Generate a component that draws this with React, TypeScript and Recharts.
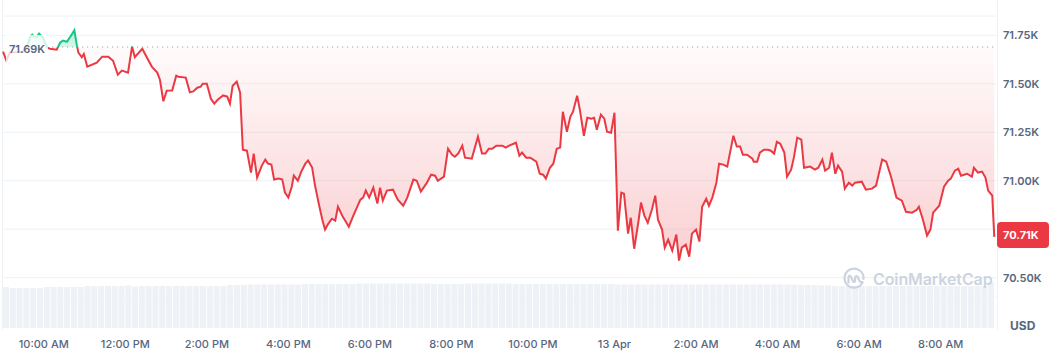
import { ComposedChart, Area, XAxis, YAxis, CartesianGrid, ReferenceLine, BarChart, Bar } from 'recharts';

// minutes since 9:00 AM (12 Apr)
const times = [
  0, 5, 10, 29, 35, 40, 43, 46, 50, 53, 56, 59, 65, 69, 79, 84, 88, 94, 99, 105,
  109, 111, 116, 119, 124, 138, 146, 155, 162, 169, 175, 184, 190, 194, 205, 212, 219, 227, 231, 236,
  241, 249, 255, 258, 269, 275, 280, 286, 291, 294, 300, 306, 311, 316, 324, 330, 334, 338, 344, 349,
  353, 359, 365, 369, 374, 381, 386, 390, 395, 399, 406, 411, 415, 420, 425, 428, 434, 439, 445, 449,
  455, 459, 465, 470, 474, 478, 484, 489, 493, 500, 509, 515, 526, 530, 534, 539, 545, 551, 555, 559,
  565, 574, 581, 589, 595, 604, 609, 615, 624, 630, 636, 640, 649, 655, 661, 665, 670, 676, 680, 690,
  699, 705, 710, 715, 720, 726, 735, 740, 745, 755, 760, 764, 770, 776, 785, 790, 795, 799, 805, 810,
  815, 820, 824, 830, 835, 839, 845, 849, 855, 860, 866, 870, 874, 880, 885, 889, 895, 900, 905, 910,
  914, 920, 924, 929, 935, 939, 944, 949, 955, 960, 964, 970, 974, 979, 985, 991, 995, 999, 1005, 1010,
  1014, 1020, 1025, 1029, 1035, 1039, 1044, 1050, 1054, 1060, 1066, 1075, 1080, 1085, 1089, 1095, 1103, 1105, 1110, 1114,
  1120, 1126, 1130, 1135, 1139, 1144, 1150, 1154, 1160, 1164, 1169, 1175, 1179, 1188, 1195, 1200, 1206, 1210, 1216, 1220,
  1225, 1229, 1235, 1239, 1245, 1250, 1254, 1264, 1270, 1279, 1285, 1294, 1300, 1307, 1315, 1323, 1329, 1338, 1345, 1348,
  1354, 1360, 1365, 1369, 1378, 1385, 1391, 1395, 1401, 1406, 1410, 1419, 1426, 1429, 1435, 1441, 1446, 1450, 1456, 1459,
];

const prices = [
  71666, 71620, 71661, 71666, 71687, 71743, 71754, 71743, 71743, 71759, 71748, 71738, 71687, 71681, 71676, 71712, 71723, 71717, 71743, 71776,
  71693, 71661, 71637, 71654, 71589, 71609, 71640, 71640, 71619, 71547, 71568, 71558, 71693, 71637, 71681, 71635, 71589, 71558, 71521, 71410,
  71465, 71466, 71542, 71537, 71532, 71456, 71461, 71480, 71485, 71501, 71501, 71423, 71398, 71418, 71440, 71434, 71398, 71490, 71511, 71454,
  71160, 71155, 71042, 71140, 71016, 71078, 71109, 71088, 71083, 71006, 71011, 71006, 70939, 70913, 70969, 71026, 71000, 71047, 71088, 71104,
  71068, 70980, 70877, 70799, 70748, 70774, 70804, 70794, 70866, 70815, 70763, 70815, 70902, 70913, 70949, 70913, 70964, 70882, 70964, 70897,
  70949, 70954, 70902, 70871, 70913, 71006, 71000, 70944, 70990, 71031, 71026, 71000, 71021, 71165, 71134, 71124, 71140, 71181, 71119, 71114,
  71227, 71140, 71140, 71165, 71165, 71181, 71181, 71171, 71181, 71196, 71129, 71145, 71119, 71119, 71098, 71036, 71031, 71011, 71067, 71088,
  71165, 71171, 71356, 71253, 71330, 71356, 71439, 71367, 71232, 71325, 71320, 71325, 71263, 71341, 71320, 71253, 71248, 71351, 70742, 70938,
  70933, 70727, 70809, 70649, 70783, 70887, 70820, 70783, 70850, 70923, 70799, 70748, 70655, 70696, 70639, 70722, 70588, 70655, 70670, 70608,
  70727, 70748, 70686, 70866, 70907, 70871, 70913, 70990, 71088, 71083, 71073, 71232, 71176, 71176, 71134, 71134, 71114, 71098, 71098, 71145,
  71160, 71160, 71155, 71140, 71201, 71191, 71145, 71021, 71057, 71119, 71222, 71212, 71067, 71073, 71057, 71067, 71109, 71052, 71067, 71145,
  71036, 71078, 71047, 70959, 70990, 70975, 70990, 70995, 70954, 70959, 70975, 71109, 71098, 71021, 70913, 70897, 70840, 70835, 70850, 70866,
  70799, 70717, 70748, 70835, 70871, 70969, 71000, 71011, 71052, 71062, 71026, 71036, 71021, 71067, 71042, 71047, 71016, 70949, 70923, 70710,
];

// 24h volume, one bar per 10 minutes (relative units)
const volumes = [
  41, 40, 40, 40, 40, 40,
  41, 41, 41, 41, 41, 41,
  42, 42, 42, 42, 42, 42,
  42.5, 41.5, 42, 42, 42, 42,
  42, 42, 42, 42, 42, 42,
  42, 42, 42, 43, 43, 43,
  43.5, 43.5, 43.5, 43.5, 43.5, 43.5,
  43.5, 43.5, 44, 44, 44, 44,
  44, 44, 44, 44, 44.5, 44.5,
  44.5, 44.5, 44.5, 44.5, 44.5, 44.5,
  44.5, 44.5, 44.5, 44, 44, 44,
  44, 44, 44.5, 44.5, 44.5, 44.5,
  44.5, 44.5, 44.5, 44, 44, 44,
  44, 44, 44, 44, 44, 44,
  44, 44, 44, 44, 44, 44,
  43.5, 43.5, 43.5, 43.5, 43.5, 43.5,
  43.5, 43.5, 43.5, 43.5, 43.5, 43.5,
  43.5, 43.5, 43.5, 43.5, 43.5, 43.5,
  43.5, 43.5, 43.5, 43.5, 43.5, 43.5,
  43.5, 43.5, 43.5, 43, 43, 43,
  42.5, 42.5, 42, 42, 42, 42,
  42, 42, 42, 42, 42, 42,
  42, 42, 42, 42, 42, 42,
  42, 42, 42, 42, 42, 42,
  42, 46,
];

const openPrice = 71690;
const lastPrice = 70710;
const yTicks = [70500, 70750, 71000, 71250, 71500, 71750];
// this tick sits under the last-price badge: grid line only, no label
const hiddenTick = 70750;
const xTicks = [60, 180, 300, 420, 540, 660, 780, 900, 1020, 1140, 1260, 1380];
const xLabels = ['10:00 AM', '12:00 PM', '2:00 PM', '4:00 PM', '6:00 PM', '8:00 PM', '10:00 PM', '13 Apr', '2:00 AM', '4:00 AM', '6:00 AM', '8:00 AM'];

const RED = '#ea3943';
const GREEN = '#16c784';
const GRAY = '#58667e';
const GRID = '#eff2f5';
const FONT = 'Inter, "Noto Sans", sans-serif';

const priceData = times.map((t, i) => ({ t, price: prices[i] }));
const volumeData = volumes.map((v, i) => ({ t: i * 10 + 5, vol: v }));

const pMax = Math.max(...prices);
const pMin = Math.min(...prices);
const split = (pMax - openPrice) / (pMax - pMin);

const fmtK = (v: number) => `${(v / 1000).toFixed(2)}K`;

function PriceTick(props: any) {
  const { x, y, payload } = props;
  if (payload.value === hiddenTick) return <g />;
  return (
    <text x={x} y={y} dy="0.355em" textAnchor="start" fill={GRAY} fontSize={11} fontWeight={600} fontFamily={FONT}>
      {fmtK(payload.value)}
    </text>
  );
}

function Logo() {
  return (
    <svg width={24} height={24} viewBox="0 0 24 24" fill="none" stroke="#cdd4df" strokeWidth={2.2} strokeLinecap="round" strokeLinejoin="round">
      <path d="M20.5 15.5 A9.5 9.5 0 1 1 21.5 12" />
      <path d="M6.5 15.5 L6.5 10.5 C6.5 8.6 8.3 8.4 9 9.9 L11 14.2 C11.6 15.5 12.9 15.2 13 13.8 L13.2 10.5 C13.4 8.8 15 8.6 15.7 10 L17.3 13.5 C17.9 14.8 19 15.4 20.5 15" />
    </svg>
  );
}

export default function App() {
  return (
    <div style={{ position: 'absolute', left: 0, top: 0, width: 1053, height: 351, background: '#fff', fontFamily: FONT, overflow: 'hidden' }}>
      <div style={{ position: 'absolute', left: 2, top: 0, width: 1, height: 330, background: GRID }} />
      <div style={{ position: 'absolute', left: 997, top: 0, width: 1, height: 330, background: GRID }} />

      <div style={{ position: 'absolute', left: 0, top: 270 }}>
        <BarChart width={1053} height={81} data={volumeData} margin={{ top: 8, right: 56, bottom: 0, left: 3 }}>
          <XAxis
            dataKey="t"
            type="number"
            domain={[0, 1463]}
            ticks={xTicks}
            interval={0}
            tickFormatter={(v: number) => xLabels[xTicks.indexOf(v)] ?? ''}
            axisLine={false}
            tickLine={false}
            tickSize={0}
            tickMargin={12}
            height={23}
            tick={{ fill: GRAY, fontSize: 11, fontWeight: 500, fontFamily: FONT }}
          />
          <YAxis hide domain={[0, 50]} />
          <Bar dataKey="vol" fill="#eef1f5" barSize={6} isAnimationActive={false} />
        </BarChart>
      </div>

      <div style={{ position: 'absolute', left: 0, top: 0 }}>
        <ComposedChart width={1053} height={297} data={priceData} margin={{ top: 16, right: 0, bottom: 0, left: 3 }}>
          <defs>
            <linearGradient id="strokeGrad" x1="0" y1="0" x2="0" y2="1">
              <stop offset={0} stopColor={GREEN} />
              <stop offset={split} stopColor={GREEN} />
              <stop offset={split} stopColor={RED} />
              <stop offset={1} stopColor={RED} />
            </linearGradient>
            <linearGradient id="fillGrad" x1="0" y1="0" x2="0" y2="1">
              <stop offset={0} stopColor={GREEN} stopOpacity={0.35} />
              <stop offset={split} stopColor={GREEN} stopOpacity={0.15} />
              <stop offset={split} stopColor={RED} stopOpacity={0.02} />
              <stop offset={1} stopColor={RED} stopOpacity={0.24} />
            </linearGradient>
          </defs>
          <CartesianGrid vertical={false} stroke={GRID} />
          <XAxis dataKey="t" type="number" domain={[0, 1463]} hide />
          <YAxis
            orientation="right"
            domain={[70400, 71850]}
            ticks={yTicks}
            interval={0}
            width={56}
            axisLine={false}
            tickLine={false}
            tickSize={0}
            tickMargin={6}
            tick={PriceTick}
          />
          <ReferenceLine
            segment={[{ x: 65, y: openPrice }, { x: 1463, y: openPrice }]}
            stroke="#8a93a3"
            strokeDasharray="1 4"
          />
          <Area
            type="linear"
            dataKey="price"
            baseValue={openPrice}
            stroke="url(#strokeGrad)"
            strokeWidth={2}
            fill="url(#fillGrad)"
            fillOpacity={1}
            dot={false}
            activeDot={false}
            isAnimationActive={false}
          />
        </ComposedChart>
      </div>

      <div
        style={{
          position: 'absolute', left: 6, top: 35, width: 42, height: 28,
          background: 'rgba(255,255,255,0.78)', display: 'flex', alignItems: 'center', justifyContent: 'center',
          color: GRAY, fontSize: 11, fontWeight: 600,
        }}
      >
        {fmtK(openPrice)}
      </div>

      <div
        style={{
          position: 'absolute', left: 997, top: 222, width: 52, height: 26, borderRadius: 4,
          background: RED, color: '#fff', fontSize: 11, fontWeight: 700,
          display: 'flex', alignItems: 'center', paddingLeft: 6, boxSizing: 'border-box',
        }}
      >
        {fmtK(lastPrice)}
      </div>

      <div style={{ position: 'absolute', left: 1010, top: 318, color: GRAY, fontSize: 12, fontWeight: 700 }}>USD</div>

      <div style={{ position: 'absolute', left: 842, top: 267, display: 'flex', alignItems: 'center', gap: 7 }}>
        <Logo />
        <span style={{ color: '#cdd4df', fontSize: 16, fontWeight: 600, letterSpacing: -0.1 }}>CoinMarketCap</span>
      </div>
    </div>
  );
}
